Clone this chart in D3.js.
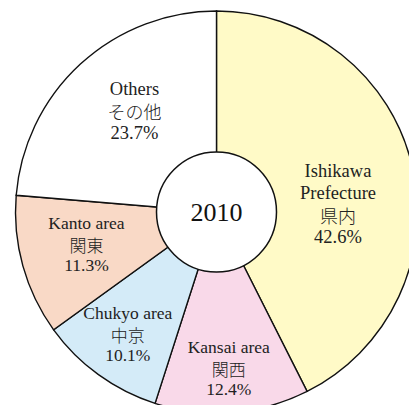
<!DOCTYPE html>
<meta charset="utf-8">
<head>
    <script src="https://cdn.jsdelivr.net/npm/d3@7"></script>
    <style>
    body { margin: 0; background: #fff; }
    text { font-family: "Liberation Serif", "Noto Sans CJK JP", serif; fill: #222; }
    .jp { font-family: "Noto Sans CJK JP", sans-serif; font-weight: 300; }
    </style>
</head>
<body>
<div id="chart"></div>
<script>
    // data
    var categories = ["Ishikawa Prefecture", "Kansai area", "Chukyo area", "Kanto area", "Others"];
    var labelLines = [["Ishikawa", "Prefecture"], ["Kansai area"], ["Chukyo area"], ["Kanto area"], ["Others"]];
    var labelJp = ["県内", "関西", "中京", "関東", "その他"];
    var shares = [42.6, 12.4, 10.1, 11.3, 23.7];
    var year = "2010";

    var colors = ["#fffac7", "#f9d9e9", "#d4ebf8", "#f9d9c6", "#ffffff"];

    var width = 409, height = 405;
    var cx = 216.5, cy = 212;
    var outerR = 201, innerR = 60;

    // label radius / nudges / line spacing / font size, per slice
    var labelLayout = [
        {r: 128, dx: -3, dy: 22, lh: 22, fs: 18.5},
        {r: 156, dx: 0, dy: 0, lh: 21, fs: 17.5},
        {r: 151, dx: 0, dy: 0, lh: 21, fs: 17.5},
        {r: 135, dx: 0, dy: -4, lh: 21, fs: 17.5},
        {r: 130, dx: 6, dy: -5, lh: 22, fs: 18.5}
    ];

    var svg = d3.select("#chart").append("svg")
        .attr("width", width)
        .attr("height", height);

    var g = svg.append("g").attr("transform", "translate(" + cx + "," + cy + ")");

    var pie = d3.pie().sort(null).value(d => d);
    var arcs = pie(shares);

    var arc = d3.arc().innerRadius(0).outerRadius(outerR);

    g.selectAll("path.slice")
        .data(arcs)
        .enter()
        .append("path")
        .attr("class", "slice")
        .attr("d", arc)
        .style("fill", (d, i) => colors[i])
        .style("stroke", "#111")
        .style("stroke-width", 1.4);

    // labels: english lines, japanese name, percent
    arcs.forEach(function (d, i) {
        var lay = labelLayout[i];
        var c = d3.arc().innerRadius(lay.r).outerRadius(lay.r).centroid(d);
        var lines = labelLines[i].map(s => ({s: s, jp: false}))
            .concat([{s: labelJp[i], jp: true}, {s: d3.format(".1f")(shares[i]) + "%", jp: false}]);
        var x = c[0] + lay.dx;
        var y0 = c[1] + lay.dy - (lines.length - 1) * lay.lh / 2;
        var t = g.append("text")
            .attr("text-anchor", "middle")
            .attr("dominant-baseline", "central")
            .style("font-size", lay.fs + "px");
        lines.forEach(function (l, k) {
            t.append("tspan")
                .attr("class", l.jp ? "jp" : null)
                .attr("x", x)
                .attr("y", y0 + k * lay.lh)
                .style("font-size", l.jp ? (lay.fs - 0.5) + "px" : null)
                .text(l.s);
        });
    });

    // center hole
    g.append("circle")
        .attr("r", innerR)
        .style("fill", "#fff")
        .style("stroke", "#111")
        .style("stroke-width", 1.5);

    g.append("text")
        .attr("text-anchor", "middle")
        .attr("dominant-baseline", "central")
        .attr("y", 0)
        .style("font-size", "26px")
        .style("fill", "#111")
        .text(year);
</script>
</body>
